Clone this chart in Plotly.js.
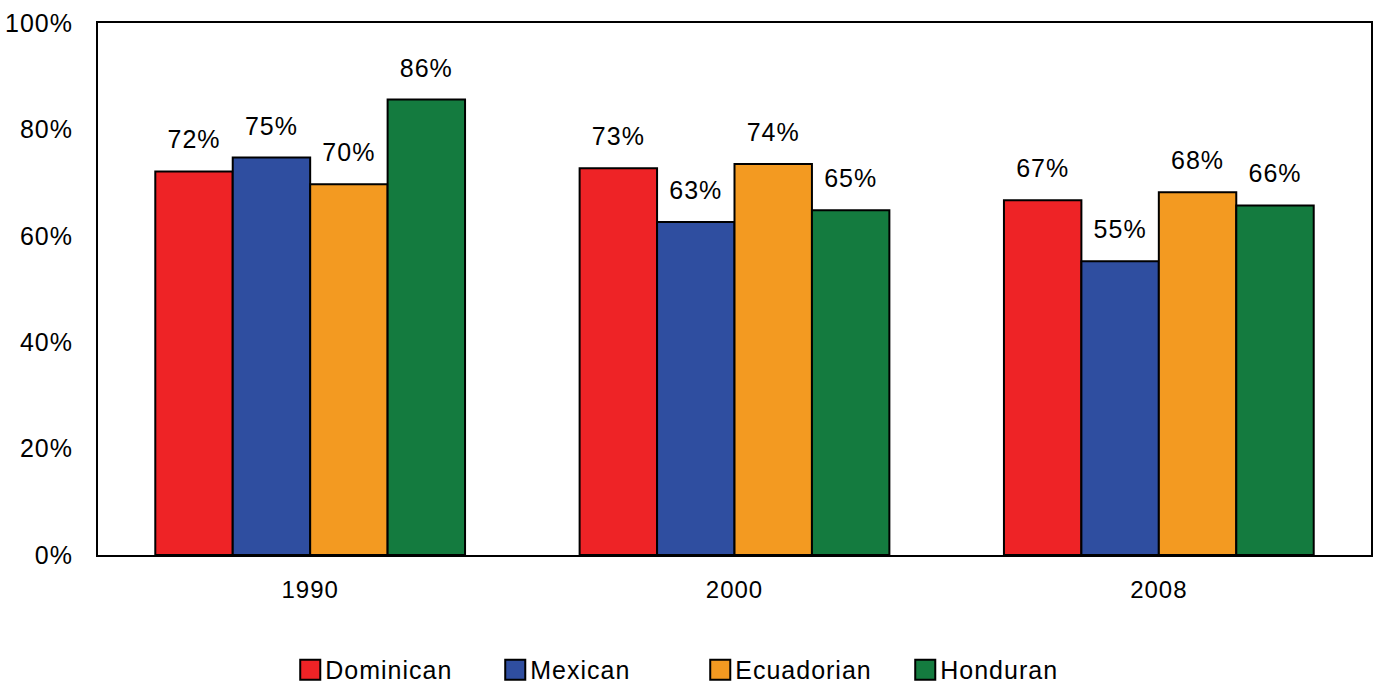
<!DOCTYPE html>
<html>
<head>
<meta charset="utf-8">
<script src="https://cdn.plot.ly/plotly-3.0.1.min.js"></script>
<style>
  html, body { margin: 0; padding: 0; background: #fff; }
  #chart { width: 1378px; height: 685px; }
  .main-svg text { letter-spacing: 1px; }
</style>
</head>
<body>
<div id="chart"></div>
<script>
const years = ['1990', '2000', '2008'];
const dominican  = [0.721, 0.727, 0.667];
const mexican    = [0.747, 0.626, 0.552];
const ecuadorian = [0.697, 0.735, 0.682];
const honduran   = [0.856, 0.648, 0.657];
const seriesNames = ['Dominican', 'Mexican', 'Ecuadorian', 'Honduran'];
const seriesColors = ['#EE2326', '#2F4EA0', '#F39A21', '#147B3F'];
const seriesValues = [dominican, mexican, ecuadorian, honduran];

const FONT = 'Liberation Sans, Arial, sans-serif';

const traces = seriesValues.map((vals, i) => ({
  type: 'bar',
  name: seriesNames[i],
  x: years,
  y: vals,
  marker: { color: seriesColors[i], line: { color: '#000', width: 2 } },
  texttemplate: '%{y:.0%}',
  textposition: 'outside',
  textfont: { family: FONT, size: 25, color: '#000' },
  cliponaxis: false,
  hoverinfo: 'skip'
}));

const layout = {
  width: 1378,
  height: 685,
  margin: { l: 98, r: 7, t: 23, b: 130, autoexpand: false },
  paper_bgcolor: '#fff',
  plot_bgcolor: '#fff',
  font: { family: FONT, size: 24, color: '#000' },
  barmode: 'group',
  bargap: 0.27,
  bargroupgap: 0,
  showlegend: true,
  legend: {
    orientation: 'h',
    xref: 'container', yref: 'container',
    x: 0.207, xanchor: 'left',
    y: 0.022, yanchor: 'middle',
    font: { family: FONT, size: 25, color: '#000' },
    itemwidth: 30,
    entrywidth: 160,
    traceorder: 'normal'
  },
  xaxis: {
    type: 'category',
    showline: true, linecolor: '#000', linewidth: 2, mirror: true,
    ticks: '', showgrid: false,
    tickfont: { family: FONT, size: 24, color: '#000' },
    ticklabelstandoff: 12
  },
  yaxis: {
    range: [0, 1],
    tickvals: [0, 0.2, 0.4, 0.6, 0.8, 1.0],
    tickformat: '.0%',
    showline: true, linecolor: '#000', linewidth: 2, mirror: true,
    ticks: '', showgrid: false, zeroline: false,
    tickfont: { family: FONT, size: 25, color: '#000' },
    ticklabelstandoff: 18
  }
};

Plotly.newPlot('chart', traces, layout, { staticPlot: true, displayModeBar: false }).then(() => {
  // lift outside data labels a bit higher above the bars
  document.querySelectorAll('#chart .bartext').forEach(t => {
    const tr = t.getAttribute('transform') || '';
    t.setAttribute('transform', 'translate(0,-15) ' + tr);
  });
  // enlarge legend swatches to match the reference squares
  document.querySelectorAll('#chart .legendpoints path').forEach(p => {
    p.setAttribute('transform', 'translate(25,0) scale(1.67)');
    p.style.strokeWidth = '1.2px';
  });
});
</script>
</body>
</html>
